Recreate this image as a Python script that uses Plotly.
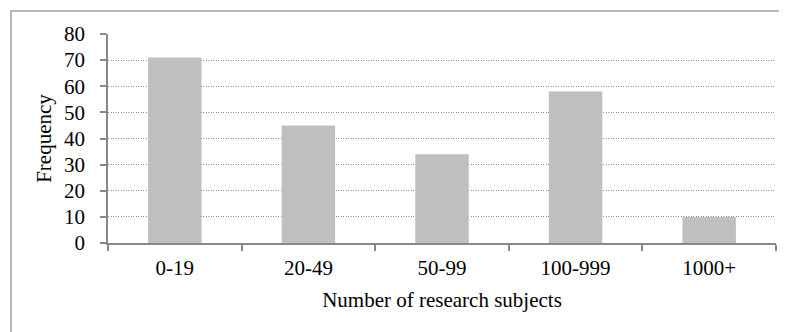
import plotly.graph_objects as go

categories = ["0-19", "20-49", "50-99", "100-999", "1000+"]
frequency = [71, 45, 34, 58, 10]
y_ticks = [0, 10, 20, 30, 40, 50, 60, 70, 80]

# page body has an 8px margin; positions below are in figure coordinates
OFF = 8
W, H = 787, 332
L, T = 108 - OFF, 34 - OFF
R = W - (776 - OFF)
B = H - (243 - OFF)
pw, ph = W - L - R, H - T - B

fig = go.Figure(go.Bar(
    x=categories, y=frequency,
    marker=dict(color="#bfbfbf", line=dict(width=0)),
    width=0.4,
))

font = "Liberation Serif, Times New Roman, serif"
fig.update_layout(
    width=W, height=H,
    margin=dict(l=L, r=R, t=T, b=B, autoexpand=False),
    paper_bgcolor="white", plot_bgcolor="white",
    font=dict(family=font, size=21, color="black"),
    showlegend=False,
)
fig.update_xaxes(
    type="category",
    showline=True, linecolor="#888888", linewidth=1.5,
    ticks="outside", tickson="boundaries", ticklen=6, tickcolor="#888888", tickwidth=1.5,
    showgrid=False,
    tickfont=dict(size=21), ticklabelstandoff=5,
    title=dict(text="Number of research subjects", font=dict(size=21), standoff=13),
)
fig.update_yaxes(
    range=[0, 80], tickvals=y_ticks,
    showline=True, linecolor="#888888", linewidth=1.5,
    ticks="outside", ticklen=6, tickcolor="#888888", tickwidth=1.5,
    showgrid=True, gridcolor="#8c8c8c", gridwidth=1, griddash="1px,1.5px",
    zeroline=False,
    tickfont=dict(size=21), ticklabelstandoff=11,
    title=dict(text="Frequency", font=dict(size=21), standoff=7),
)
# outer chart border
fig.add_shape(type="rect", xref="paper", yref="paper",
              x0=(11 - OFF - L) / pw, x1=(W + 20 - L) / pw,
              y0=-(H + 20 - T - ph) / ph, y1=1 + (T - (11 - OFF)) / ph,
              line=dict(color="#a0a0a0", width=1.5), fillcolor="rgba(0,0,0,0)", layer="below")

fig.write_html("out.html")
